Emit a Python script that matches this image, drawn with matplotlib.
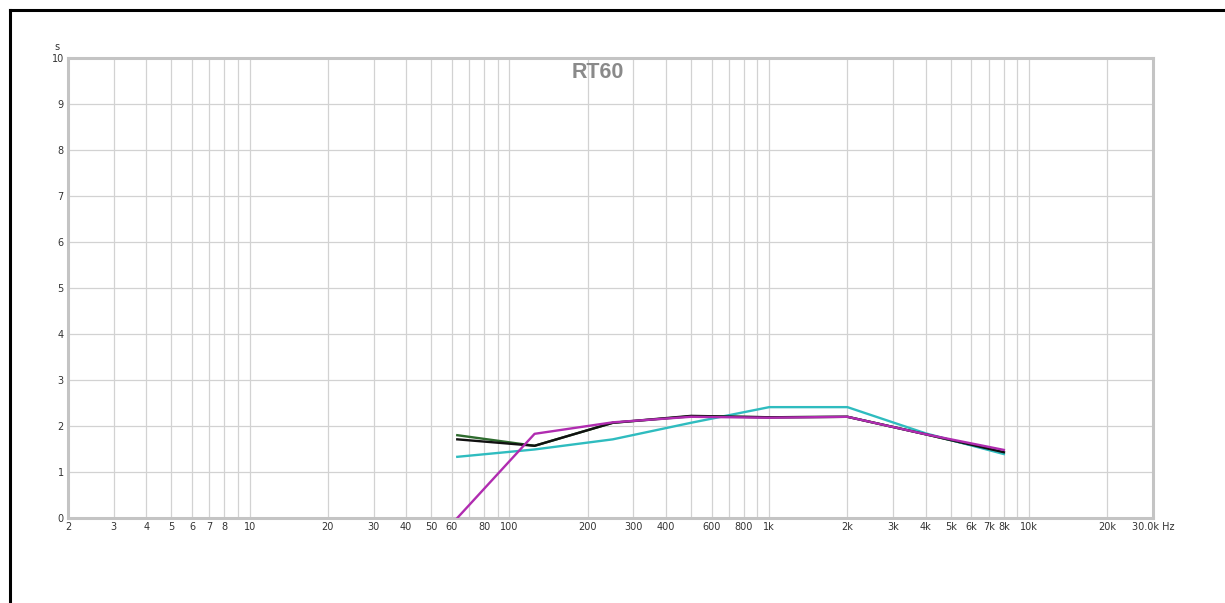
import matplotlib
matplotlib.use("Agg")
import matplotlib.pyplot as plt
from matplotlib.lines import Line2D

# octave band centres, Hz
bands = [63, 125, 250, 500, 1000, 2000, 4000, 8000]

# RT60 per band, seconds
rt_green = [1.80, 1.57, 2.07, 2.21, 2.19, 2.20, 1.82, 1.42]
rt_cyan = [1.33, 1.49, 1.71, 2.07, 2.41, 2.41, 1.84, 1.39]
rt_black = [1.71, 1.57, 2.07, 2.22, 2.19, 2.20, 1.82, 1.43]
rt_magenta = [0.0, 1.83, 2.08, 2.20, 2.18, 2.20, 1.82, 1.48]

grid_x = ([2, 3, 4, 5, 6, 7, 8, 9, 10, 20, 30, 40, 50, 60, 70, 80, 90, 100,
           200, 300, 400, 500, 600, 700, 800, 900, 1000,
           2000, 3000, 4000, 5000, 6000, 7000, 8000, 9000, 10000, 20000, 30000])
x_labels = {2: "2", 3: "3", 4: "4", 5: "5", 6: "6", 7: "7", 8: "8", 10: "10",
            20: "20", 30: "30", 40: "40", 50: "50", 60: "60", 80: "80", 100: "100",
            200: "200", 300: "300", 400: "400", 600: "600", 800: "800", 1000: "1k",
            2000: "2k", 3000: "3k", 4000: "4k", 5000: "5k", 6000: "6k", 7000: "7k",
            8000: "8k", 10000: "10k", 20000: "20k", 30000: "30.0k Hz"}
y_ticks = list(range(0, 11))

fig = plt.figure(figsize=(12.25, 6.03), dpi=100)
ax = fig.add_axes([68 / 1225, 1 - 518 / 603, (1153 - 68) / 1225, (518 - 58) / 603])

ax.plot(bands, rt_green, color="#2e6b2e", lw=1.7, zorder=3)
ax.plot(bands, rt_cyan, color="#2fbcbf", lw=1.7, zorder=3)
ax.plot(bands, rt_black, color="#111111", lw=1.7, zorder=4)
ax.plot(bands, rt_magenta, color="#b02cb0", lw=1.7, zorder=5)

ax.set_xscale("log")
ax.set_xlim(2, 30000)
ax.set_ylim(0, 10)
ax.set_xticks(grid_x)
ax.set_xticklabels([x_labels.get(v, "") for v in grid_x])
ax.minorticks_off()
ax.set_yticks(y_ticks)
ax.set_yticklabels([str(v) for v in y_ticks])
ax.tick_params(length=0, labelsize=7, labelcolor="#333333", pad=3)
ax.grid(True, color="#d2d2d2", lw=0.9)
for s in ax.spines.values():
    s.set_color("#c4c4c4")
    s.set_linewidth(2.2)

ax.text(-0.008, 1.012, "s", transform=ax.transAxes, ha="right", va="bottom",
        fontsize=7, color="#333333")
ax.text(0.488, 0.991, "RT60", transform=ax.transAxes, ha="center", va="top",
        fontsize=15.5, fontweight="bold", color="#8a8a8a", family="Liberation Sans")

# black frame lines at top and left of the picture
fig.add_artist(Line2D([9.5 / 1225, 9.5 / 1225], [0, 1 - 9.5 / 603],
                      transform=fig.transFigure, color="black", lw=2.2))
fig.add_artist(Line2D([9.5 / 1225, 1], [1 - 9.5 / 603, 1 - 9.5 / 603],
                      transform=fig.transFigure, color="black", lw=2.2))

fig.savefig("out.png", dpi=100)
